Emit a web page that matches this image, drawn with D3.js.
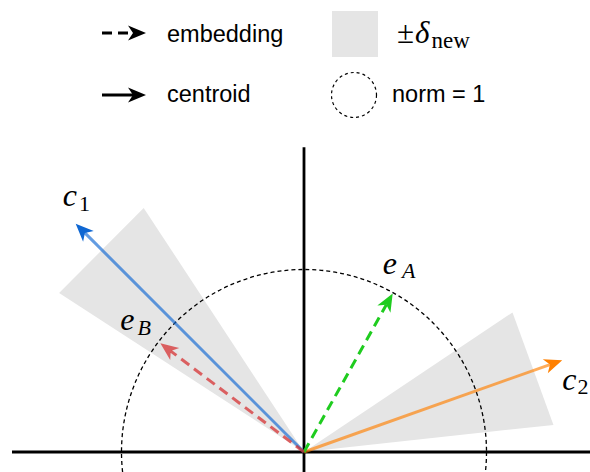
<!DOCTYPE html>
<html>
<head>
<meta charset="utf-8">
<script src="https://cdn.jsdelivr.net/npm/d3@7"></script>
<style>
  html, body { margin: 0; padding: 0; background: #fff; }
  svg { display: block; }
</style>
</head>
<body>
<svg id="chart" width="590" height="472"></svg>
<script>
// ---------- data (unit circle = norm 1) ----------
const vectorNames = ["c1", "c2", "eA", "eB"];
const vectorX = [-1.251, 1.415, 0.486, -0.787];
const vectorY = [1.251, 0.503, 0.869, 0.596];
const vectorKind = ["centroid", "centroid", "embedding", "embedding"];

// ±δ_new wedges: start / end angles (degrees) and radius
const wedgeFrom = [123.3, 6.2];
const wedgeTo = [147.0, 33.8];
const wedgeRadius = [1.6, 1.375];

const unitNorm = 1;
const axisXRange = [-1.6, 1.65];
const axisYRange = [-0.12, 1.67];

const legendLabels = ["embedding", "centroid", "norm = 1"];

// ---------- scales ----------
const svg = d3.select("#chart");
const unitPx = 182.5;
const ox = 304, oy = 452;
const x = d3.scaleLinear().domain([0, 1]).range([ox, ox + unitPx]);
const y = d3.scaleLinear().domain([0, 1]).range([oy, oy - unitPx]);

const styles = {
  c1: { line: "#0f67d2", lineOp: 0.65, head: "#0f67d2", dash: null },
  c2: { line: "#ff8000", lineOp: 0.65, head: "#ff8000", dash: null },
  eA: { line: "#1fcc1f", lineOp: 1, head: "#1fcc1f", dash: "10,6" },
  eB: { line: "#d62728", lineOp: 0.7, head: "#d62728", headOp: 0.7, dash: "10,6" }
};

// ---------- wedges ----------
const toRad = d => d * Math.PI / 180;
wedgeFrom.forEach((a0, i) => {
  const a1 = wedgeTo[i], r = wedgeRadius[i];
  const pts = [[0, 0], [r * Math.cos(toRad(a0)), r * Math.sin(toRad(a0))], [r * Math.cos(toRad(a1)), r * Math.sin(toRad(a1))]];
  svg.append("path")
    .attr("d", d3.line().x(d => x(d[0])).y(d => y(d[1]))(pts) + "Z")
    .attr("fill", "#e5e5e5");
});

// ---------- unit circle ----------
svg.append("circle")
  .attr("cx", x(0)).attr("cy", y(0))
  .attr("r", x(unitNorm) - x(0))
  .attr("fill", "none").attr("stroke", "#000")
  .attr("stroke-width", 1.3).attr("stroke-dasharray", "4,3");

// ---------- axes ----------
svg.append("line").attr("x1", x(axisXRange[0])).attr("x2", x(axisXRange[1]))
  .attr("y1", y(0)).attr("y2", y(0)).attr("stroke", "#000").attr("stroke-width", 2.8);
svg.append("line").attr("x1", x(0)).attr("x2", x(0))
  .attr("y1", y(axisYRange[0])).attr("y2", y(axisYRange[1])).attr("stroke", "#000").attr("stroke-width", 2.8);

// ---------- arrow helper ----------
function arrow(g, x0, y0, x1, y1, color, op, headColor, headOp, dash, width) {
  const dx = x1 - x0, dy = y1 - y0, L = Math.hypot(dx, dy);
  const ux = dx / L, uy = dy / L;
  const headLen = 18, headHalf = 7.5, notch = 5;
  const endX = x1 - ux * (headLen - notch), endY = y1 - uy * (headLen - notch);
  g.append("line").attr("x1", x0).attr("y1", y0).attr("x2", endX).attr("y2", endY)
    .attr("stroke", color).attr("stroke-opacity", op).attr("stroke-width", width)
    .attr("stroke-dasharray", dash);
  const px = -uy, py = ux;
  const bx = x1 - ux * headLen, by = y1 - uy * headLen;
  const nx = x1 - ux * (headLen - notch), ny = y1 - uy * (headLen - notch);
  g.append("path")
    .attr("d", `M${x1},${y1}L${bx + px * headHalf},${by + py * headHalf}L${nx},${ny}L${bx - px * headHalf},${by - py * headHalf}Z`)
    .attr("fill", headColor).attr("fill-opacity", headOp);
}

// ---------- vectors ----------
const vg = svg.append("g");
vectorNames.forEach((n, i) => {
  const s = styles[n];
  arrow(vg, x(0), y(0), x(vectorX[i]), y(vectorY[i]), s.line, s.lineOp, s.head, s.headOp == null ? 1 : s.headOp, s.dash, 3);
});

// ---------- vector labels ----------
const mathFont = "Liberation Serif";
const labelSpec = {
  c1: { main: "c", sub: "1", subItalic: false, dx: -13, dy: -18, sdx: 2, sdy: 5 },
  c2: { main: "c", sub: "2", subItalic: false, dx: 0, dy: 30, sdx: 1, sdy: 4 },
  eA: { main: "e", sub: "A", subItalic: true, dx: -10, dy: -19, sdx: 5, sdy: 4 },
  eB: { main: "e", sub: "B", subItalic: true, dx: -40, dy: -13, sdx: 3, sdy: 5 }
};
vectorNames.forEach((n, i) => {
  const sp = labelSpec[n];
  const tx = x(vectorX[i]) + sp.dx, ty = y(vectorY[i]) + sp.dy;
  const t = svg.append("text").attr("x", tx).attr("y", ty)
    .attr("font-family", mathFont).attr("font-size", 32).attr("fill", "#000");
  t.append("tspan").attr("font-style", "italic").text(sp.main);
  t.append("tspan").attr("dx", sp.sdx).attr("dy", sp.sdy).attr("font-size", 22)
    .attr("font-style", sp.subItalic ? "italic" : "normal").text(sp.sub);
});

// ---------- legend ----------
const lg = svg.append("g");
const sans = "Liberation Sans, Arial, sans-serif";
arrow(lg, 102, 33, 146, 33, "#000", 1, "#000", 1, "10,6", 3);
arrow(lg, 102, 95, 146, 95, "#000", 1, "#000", 1, null, 3);
lg.append("text").attr("x", 167).attr("y", 42).attr("font-family", sans)
  .attr("font-size", 23.5).text(legendLabels[0]);
lg.append("text").attr("x", 167).attr("y", 102).attr("font-family", sans)
  .attr("font-size", 23.5).text(legendLabels[1]);
lg.append("rect").attr("x", 332).attr("y", 11).attr("width", 46).attr("height", 46).attr("fill", "#e5e5e5");
lg.append("circle").attr("cx", 354).attr("cy", 95).attr("r", 22.5)
  .attr("fill", "none").attr("stroke", "#000").attr("stroke-width", 1.2).attr("stroke-dasharray", "3,3");
lg.append("text").attr("x", 392).attr("y", 102).attr("font-family", sans)
  .attr("font-size", 23.5).text(legendLabels[2]);
const pm = lg.append("text").attr("x", 397).attr("y", 43).attr("font-family", mathFont).attr("font-size", 31);
pm.append("tspan").text("±");
pm.append("tspan").attr("font-style", "italic").attr("dx", 1).text("δ");
pm.append("tspan").attr("font-size", 23).attr("dy", 5).attr("dx", 2).text("new");
</script>
</body>
</html>
